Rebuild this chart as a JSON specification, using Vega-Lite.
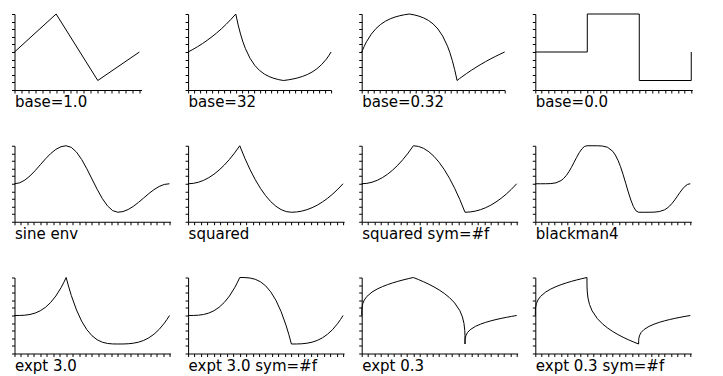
{
  "$schema": "https://vega.github.io/schema/vega-lite/v6.json",
  "background": "white",
  "padding": {"left": 10.5, "top": 12, "right": 5, "bottom": 5},
  "config": {
    "view": {"stroke": null},
    "axis": {"grid": false, "labels": false, "domainColor": "black", "tickColor": "black", "tickSize": 3, "domainWidth": 1, "tickWidth": 1, "titleFont": "DejaVu Sans", "titleFontSize": 15, "titleFontWeight": "normal", "titleColor": "black", "titleAnchor": "start", "titlePadding": 1},
    "line": {"color": "black", "strokeWidth": 1}
  },
  "datasets": {
    "p1": [{"x":0,"y":0},{"x":1,"y":1},{"x":2,"y":-0.75},{"x":3,"y":0}],
    "p2": [{"x":0,"y":0},{"x":0.1,"y":0.0678},{"x":0.2,"y":0.1412},{"x":0.3,"y":0.2208},{"x":0.4,"y":0.307},{"x":0.5,"y":0.4006},{"x":0.6,"y":0.5019},{"x":0.7,"y":0.6117},{"x":0.8,"y":0.7308},{"x":0.9,"y":0.8599},{"x":1,"y":1},
      {"x":1.05,"y":0.7126},{"x":1.1,"y":0.4709},{"x":1.15,"y":0.2677},{"x":1.2,"y":0.0968},{"x":1.3,"y":-0.1678},{"x":1.4,"y":-0.3548},{"x":1.5,"y":-0.4871},{"x":1.6,"y":-0.5806},{"x":1.7,"y":-0.6468},{"x":1.8,"y":-0.6935},{"x":1.9,"y":-0.7266},{"x":2,"y":-0.75},
      {"x":2.1,"y":-0.7328},{"x":2.2,"y":-0.7104},{"x":2.3,"y":-0.6811},{"x":2.4,"y":-0.6429},{"x":2.5,"y":-0.5931},{"x":2.6,"y":-0.5281},{"x":2.7,"y":-0.4433},{"x":2.8,"y":-0.3326},{"x":2.9,"y":-0.1883},{"x":2.95,"y":-0.1004},{"x":3,"y":0}],
    "p3": [{"x":0,"y":0},{"x":0.05,"y":0.1414},{"x":0.1,"y":0.2682},{"x":0.2,"y":0.4683},{"x":0.3,"y":0.6177},{"x":0.4,"y":0.7291},{"x":0.5,"y":0.8122},{"x":0.6,"y":0.8742},{"x":0.7,"y":0.9205},{"x":0.8,"y":0.955},{"x":0.9,"y":0.9808},{"x":1,"y":1},
      {"x":1.1,"y":0.9766},{"x":1.2,"y":0.9435},{"x":1.3,"y":0.8968},{"x":1.4,"y":0.8306},{"x":1.5,"y":0.7371},{"x":1.6,"y":0.6048},{"x":1.7,"y":0.4178},{"x":1.8,"y":0.1532},{"x":1.85,"y":-0.0177},{"x":1.9,"y":-0.2209},{"x":1.95,"y":-0.4626},{"x":1.98,"y":-0.629},{"x":2,"y":-0.75},
      {"x":2.05,"y":-0.7022},{"x":2.1,"y":-0.6556},{"x":2.2,"y":-0.5662},{"x":2.3,"y":-0.4815},{"x":2.4,"y":-0.4011},{"x":2.5,"y":-0.325},{"x":2.6,"y":-0.2529},{"x":2.7,"y":-0.1845},{"x":2.8,"y":-0.1197},{"x":2.9,"y":-0.0582},{"x":3,"y":0}],
    "p4": [{"x":0,"y":0},{"x":1,"y":0},{"x":1,"y":1},{"x":2,"y":1},{"x":2,"y":-0.75},{"x":3,"y":-0.75},{"x":3,"y":0}],
    "p5": [{"x":0,"y":0},{"x":0.1,"y":0.0245},{"x":0.2,"y":0.0955},{"x":0.3,"y":0.2061},{"x":0.4,"y":0.3455},{"x":0.5,"y":0.5},{"x":0.6,"y":0.6545},{"x":0.7,"y":0.7939},{"x":0.8,"y":0.9045},{"x":0.9,"y":0.9755},{"x":1,"y":1},
      {"x":1.1,"y":0.9572},{"x":1.2,"y":0.8329},{"x":1.3,"y":0.6393},{"x":1.4,"y":0.3954},{"x":1.5,"y":0.125},{"x":1.6,"y":-0.1454},{"x":1.7,"y":-0.3893},{"x":1.8,"y":-0.5829},{"x":1.9,"y":-0.7072},{"x":2,"y":-0.75},
      {"x":2.1,"y":-0.7316},{"x":2.2,"y":-0.6784},{"x":2.3,"y":-0.5954},{"x":2.4,"y":-0.4909},{"x":2.5,"y":-0.375},{"x":2.6,"y":-0.2591},{"x":2.7,"y":-0.1546},{"x":2.8,"y":-0.0716},{"x":2.9,"y":-0.0184},{"x":3,"y":0}],
    "p6": [{"x":0,"y":0},{"x":0.1,"y":0.01},{"x":0.2,"y":0.04},{"x":0.3,"y":0.09},{"x":0.4,"y":0.16},{"x":0.5,"y":0.25},{"x":0.6,"y":0.36},{"x":0.7,"y":0.49},{"x":0.8,"y":0.64},{"x":0.9,"y":0.81},{"x":1,"y":1},
      {"x":1.1,"y":0.6675},{"x":1.2,"y":0.37},{"x":1.3,"y":0.1075},{"x":1.4,"y":-0.12},{"x":1.5,"y":-0.3125},{"x":1.6,"y":-0.47},{"x":1.7,"y":-0.5925},{"x":1.8,"y":-0.68},{"x":1.9,"y":-0.7325},{"x":2,"y":-0.75},
      {"x":2.1,"y":-0.7425},{"x":2.2,"y":-0.72},{"x":2.3,"y":-0.6825},{"x":2.4,"y":-0.63},{"x":2.5,"y":-0.5625},{"x":2.6,"y":-0.48},{"x":2.7,"y":-0.3825},{"x":2.8,"y":-0.27},{"x":2.9,"y":-0.1425},{"x":3,"y":0}],
    "p7": [{"x":0,"y":0},{"x":0.1,"y":0.01},{"x":0.2,"y":0.04},{"x":0.3,"y":0.09},{"x":0.4,"y":0.16},{"x":0.5,"y":0.25},{"x":0.6,"y":0.36},{"x":0.7,"y":0.49},{"x":0.8,"y":0.64},{"x":0.9,"y":0.81},{"x":1,"y":1},
      {"x":1.1,"y":0.9825},{"x":1.2,"y":0.93},{"x":1.3,"y":0.8425},{"x":1.4,"y":0.72},{"x":1.5,"y":0.5625},{"x":1.6,"y":0.37},{"x":1.7,"y":0.1425},{"x":1.8,"y":-0.12},{"x":1.9,"y":-0.4175},{"x":2,"y":-0.75},
      {"x":2.1,"y":-0.7425},{"x":2.2,"y":-0.72},{"x":2.3,"y":-0.6825},{"x":2.4,"y":-0.63},{"x":2.5,"y":-0.5625},{"x":2.6,"y":-0.48},{"x":2.7,"y":-0.3825},{"x":2.8,"y":-0.27},{"x":2.9,"y":-0.1425},{"x":3,"y":0}],
    "p8": [{"x":0,"y":0},{"x":0.1,"y":0},{"x":0.2,"y":0.0004},{"x":0.3,"y":0.0042},{"x":0.4,"y":0.0235},{"x":0.5,"y":0.084},{"x":0.55,"y":0.1399},{"x":0.6,"y":0.2171},{"x":0.65,"y":0.3158},{"x":0.7,"y":0.4333},{"x":0.75,"y":0.563},{"x":0.8,"y":0.6948},{"x":0.85,"y":0.8165},{"x":0.9,"y":0.9151},{"x":0.95,"y":0.9795},{"x":1,"y":1},
      {"x":1.1,"y":1},{"x":1.2,"y":0.9993},{"x":1.3,"y":0.9927},{"x":1.4,"y":0.9589},{"x":1.5,"y":0.853},{"x":1.55,"y":0.7552},{"x":1.6,"y":0.6201},{"x":1.65,"y":0.4474},{"x":1.7,"y":0.2417},{"x":1.75,"y":0.0148},{"x":1.8,"y":-0.2159},{"x":1.85,"y":-0.4289},{"x":1.9,"y":-0.6014},{"x":1.95,"y":-0.7141},{"x":2,"y":-0.75},
      {"x":2.1,"y":-0.75},{"x":2.2,"y":-0.7497},{"x":2.3,"y":-0.7469},{"x":2.4,"y":-0.7324},{"x":2.5,"y":-0.687},{"x":2.55,"y":-0.6451},{"x":2.6,"y":-0.5872},{"x":2.65,"y":-0.5132},{"x":2.7,"y":-0.425},{"x":2.75,"y":-0.3278},{"x":2.8,"y":-0.2289},{"x":2.85,"y":-0.1376},{"x":2.9,"y":-0.0637},{"x":2.95,"y":-0.0154},{"x":3,"y":0}],
    "p9": [{"x":0,"y":0},{"x":0.1,"y":0.001},{"x":0.2,"y":0.008},{"x":0.3,"y":0.027},{"x":0.4,"y":0.064},{"x":0.5,"y":0.125},{"x":0.6,"y":0.216},{"x":0.7,"y":0.343},{"x":0.8,"y":0.512},{"x":0.9,"y":0.729},{"x":0.95,"y":0.8574},{"x":1,"y":1},
      {"x":1.05,"y":0.7504},{"x":1.1,"y":0.5258},{"x":1.2,"y":0.146},{"x":1.3,"y":-0.1498},{"x":1.4,"y":-0.372},{"x":1.5,"y":-0.5313},{"x":1.6,"y":-0.638},{"x":1.7,"y":-0.7028},{"x":1.8,"y":-0.736},{"x":1.9,"y":-0.7483},{"x":2,"y":-0.75},
      {"x":2.1,"y":-0.7493},{"x":2.2,"y":-0.744},{"x":2.3,"y":-0.7298},{"x":2.4,"y":-0.702},{"x":2.5,"y":-0.6563},{"x":2.6,"y":-0.588},{"x":2.7,"y":-0.4928},{"x":2.8,"y":-0.366},{"x":2.9,"y":-0.2033},{"x":2.95,"y":-0.107},{"x":3,"y":0}],
    "p10": [{"x":0,"y":0},{"x":0.1,"y":0.001},{"x":0.2,"y":0.008},{"x":0.3,"y":0.027},{"x":0.4,"y":0.064},{"x":0.5,"y":0.125},{"x":0.6,"y":0.216},{"x":0.7,"y":0.343},{"x":0.8,"y":0.512},{"x":0.9,"y":0.729},{"x":0.95,"y":0.8574},{"x":1,"y":1},
      {"x":1.1,"y":0.9983},{"x":1.2,"y":0.986},{"x":1.3,"y":0.9528},{"x":1.4,"y":0.888},{"x":1.5,"y":0.7813},{"x":1.6,"y":0.622},{"x":1.7,"y":0.3998},{"x":1.8,"y":0.104},{"x":1.9,"y":-0.2758},{"x":1.95,"y":-0.5004},{"x":2,"y":-0.75},
      {"x":2.1,"y":-0.7493},{"x":2.2,"y":-0.744},{"x":2.3,"y":-0.7298},{"x":2.4,"y":-0.702},{"x":2.5,"y":-0.6563},{"x":2.6,"y":-0.588},{"x":2.7,"y":-0.4928},{"x":2.8,"y":-0.366},{"x":2.9,"y":-0.2033},{"x":2.95,"y":-0.107},{"x":3,"y":0}],
    "p11": [{"x":0,"y":0},{"x":0.001,"y":0.1259},{"x":0.005,"y":0.2038},{"x":0.02,"y":0.3092},{"x":0.05,"y":0.4071},{"x":0.1,"y":0.5012},{"x":0.2,"y":0.617},{"x":0.3,"y":0.6968},{"x":0.4,"y":0.7597},{"x":0.5,"y":0.8123},{"x":0.6,"y":0.8579},{"x":0.7,"y":0.8985},{"x":0.8,"y":0.9352},{"x":0.9,"y":0.9689},{"x":1,"y":1},
      {"x":1.1,"y":0.9456},{"x":1.2,"y":0.8866},{"x":1.3,"y":0.8224},{"x":1.4,"y":0.7513},{"x":1.5,"y":0.6715},{"x":1.6,"y":0.5795},{"x":1.7,"y":0.4694},{"x":1.8,"y":0.3298},{"x":1.9,"y":0.1271},{"x":1.95,"y":-0.0376},{"x":1.98,"y":-0.2089},{"x":1.995,"y":-0.3934},{"x":1.999,"y":-0.5297},{"x":2,"y":-0.75},
      {"x":2.001,"y":-0.6556},{"x":2.005,"y":-0.5971},{"x":2.02,"y":-0.5181},{"x":2.05,"y":-0.4447},{"x":2.1,"y":-0.3741},{"x":2.2,"y":-0.2872},{"x":2.3,"y":-0.2274},{"x":2.4,"y":-0.1802},{"x":2.5,"y":-0.1408},{"x":2.6,"y":-0.1066},{"x":2.7,"y":-0.0761},{"x":2.8,"y":-0.0486},{"x":2.9,"y":-0.0233},{"x":3,"y":0}],
    "p12": [{"x":0,"y":0},{"x":0.001,"y":0.1259},{"x":0.005,"y":0.2038},{"x":0.02,"y":0.3092},{"x":0.05,"y":0.4071},{"x":0.1,"y":0.5012},{"x":0.2,"y":0.617},{"x":0.3,"y":0.6968},{"x":0.4,"y":0.7597},{"x":0.5,"y":0.8123},{"x":0.6,"y":0.8579},{"x":0.7,"y":0.8985},{"x":0.8,"y":0.9352},{"x":0.9,"y":0.9689},{"x":1,"y":1},
      {"x":1.001,"y":0.7797},{"x":1.005,"y":0.6434},{"x":1.02,"y":0.4589},{"x":1.05,"y":0.2876},{"x":1.1,"y":0.1229},{"x":1.2,"y":-0.0798},{"x":1.3,"y":-0.2194},{"x":1.4,"y":-0.3295},{"x":1.5,"y":-0.4215},{"x":1.6,"y":-0.5013},{"x":1.7,"y":-0.5724},{"x":1.8,"y":-0.6366},{"x":1.9,"y":-0.6956},{"x":2,"y":-0.75},
      {"x":2.001,"y":-0.6556},{"x":2.005,"y":-0.5971},{"x":2.02,"y":-0.5181},{"x":2.05,"y":-0.4447},{"x":2.1,"y":-0.3741},{"x":2.2,"y":-0.2872},{"x":2.3,"y":-0.2274},{"x":2.4,"y":-0.1802},{"x":2.5,"y":-0.1408},{"x":2.6,"y":-0.1066},{"x":2.7,"y":-0.0761},{"x":2.8,"y":-0.0486},{"x":2.9,"y":-0.0233},{"x":3,"y":0}]
  },
  "columns": 4,
  "bounds": "flush",
  "spacing": {"row": 55.75, "column": 17.6},
  "concat": [
    {"width": 127, "height": 76, "data": {"name": "p1"}, "mark": "line", "encoding": {"x": {"field": "x", "type": "quantitative", "scale": {"domain": [0, 3.05]}, "axis": {"title": "base=1.0", "values": [0,0.1667,0.3333,0.5,0.6667,0.8333,1,1.1667,1.3333,1.5,1.6667,1.8333,2,2.1667,2.3333,2.5,2.6667,2.8333,3]}}, "y": {"field": "y", "type": "quantitative", "scale": {"domain": [-1, 1]}, "axis": {"title": null, "values": [-1,-0.8,-0.6,-0.4,-0.2,0,0.2,0.4,0.6,0.8,1]}}, "order": {"value": null}}},
    {"width": 143, "height": 76, "data": {"name": "p2"}, "mark": "line", "encoding": {"x": {"field": "x", "type": "quantitative", "scale": {"domain": [0, 3]}, "axis": {"title": "base=32", "values": [0,0.125,0.25,0.375,0.5,0.625,0.75,0.875,1,1.125,1.25,1.375,1.5,1.625,1.75,1.875,2,2.125,2.25,2.375,2.5,2.625,2.75,2.875,3]}}, "y": {"field": "y", "type": "quantitative", "scale": {"domain": [-1, 1]}, "axis": {"title": null, "values": [-1,-0.8,-0.6,-0.4,-0.2,0,0.2,0.4,0.6,0.8,1]}}, "order": {"value": null}}},
    {"width": 143, "height": 76, "data": {"name": "p3"}, "mark": "line", "encoding": {"x": {"field": "x", "type": "quantitative", "scale": {"domain": [0, 3]}, "axis": {"title": "base=0.32", "values": [0,0.125,0.25,0.375,0.5,0.625,0.75,0.875,1,1.125,1.25,1.375,1.5,1.625,1.75,1.875,2,2.125,2.25,2.375,2.5,2.625,2.75,2.875,3]}}, "y": {"field": "y", "type": "quantitative", "scale": {"domain": [-1, 1]}, "axis": {"title": null, "values": [-1,-0.8,-0.6,-0.4,-0.2,0,0.2,0.4,0.6,0.8,1]}}, "order": {"value": null}}},
    {"width": 157, "height": 76, "data": {"name": "p4"}, "mark": "line", "encoding": {"x": {"field": "x", "type": "quantitative", "scale": {"domain": [0, 3.02]}, "axis": {"title": "base=0.0", "values": [0,0.125,0.25,0.375,0.5,0.625,0.75,0.875,1,1.125,1.25,1.375,1.5,1.625,1.75,1.875,2,2.125,2.25,2.375,2.5,2.625,2.75,2.875,3]}}, "y": {"field": "y", "type": "quantitative", "scale": {"domain": [-1, 1]}, "axis": {"title": null, "values": [-1,-0.8,-0.6,-0.4,-0.2,0,0.2,0.4,0.6,0.8,1]}}, "order": {"value": null}}},
    {"width": 156, "height": 76, "data": {"name": "p5"}, "mark": "line", "encoding": {"x": {"field": "x", "type": "quantitative", "scale": {"domain": [0, 3.02]}, "axis": {"title": "sine env", "values": [0,0.125,0.25,0.375,0.5,0.625,0.75,0.875,1,1.125,1.25,1.375,1.5,1.625,1.75,1.875,2,2.125,2.25,2.375,2.5,2.625,2.75,2.875,3]}}, "y": {"field": "y", "type": "quantitative", "scale": {"domain": [-1, 1]}, "axis": {"title": null, "values": [-1,-0.8,-0.6,-0.4,-0.2,0,0.2,0.4,0.6,0.8,1]}}, "order": {"value": null}}},
    {"width": 156, "height": 76, "data": {"name": "p6"}, "mark": "line", "encoding": {"x": {"field": "x", "type": "quantitative", "scale": {"domain": [0, 3.02]}, "axis": {"title": "squared", "values": [0,0.125,0.25,0.375,0.5,0.625,0.75,0.875,1,1.125,1.25,1.375,1.5,1.625,1.75,1.875,2,2.125,2.25,2.375,2.5,2.625,2.75,2.875,3]}}, "y": {"field": "y", "type": "quantitative", "scale": {"domain": [-1, 1]}, "axis": {"title": null, "values": [-1,-0.8,-0.6,-0.4,-0.2,0,0.2,0.4,0.6,0.8,1]}}, "order": {"value": null}}},
    {"width": 156, "height": 76, "data": {"name": "p7"}, "mark": "line", "encoding": {"x": {"field": "x", "type": "quantitative", "scale": {"domain": [0, 3.02]}, "axis": {"title": "squared sym=#f", "values": [0,0.125,0.25,0.375,0.5,0.625,0.75,0.875,1,1.125,1.25,1.375,1.5,1.625,1.75,1.875,2,2.125,2.25,2.375,2.5,2.625,2.75,2.875,3]}}, "y": {"field": "y", "type": "quantitative", "scale": {"domain": [-1, 1]}, "axis": {"title": null, "values": [-1,-0.8,-0.6,-0.4,-0.2,0,0.2,0.4,0.6,0.8,1]}}, "order": {"value": null}}},
    {"width": 156, "height": 76, "data": {"name": "p8"}, "mark": "line", "encoding": {"x": {"field": "x", "type": "quantitative", "scale": {"domain": [0, 3.02]}, "axis": {"title": "blackman4", "values": [0,0.125,0.25,0.375,0.5,0.625,0.75,0.875,1,1.125,1.25,1.375,1.5,1.625,1.75,1.875,2,2.125,2.25,2.375,2.5,2.625,2.75,2.875,3]}}, "y": {"field": "y", "type": "quantitative", "scale": {"domain": [-1, 1]}, "axis": {"title": null, "values": [-1,-0.8,-0.6,-0.4,-0.2,0,0.2,0.4,0.6,0.8,1]}}, "order": {"value": null}}},
    {"width": 156, "height": 76, "data": {"name": "p9"}, "mark": "line", "encoding": {"x": {"field": "x", "type": "quantitative", "scale": {"domain": [0, 3.02]}, "axis": {"title": "expt 3.0", "values": [0,0.125,0.25,0.375,0.5,0.625,0.75,0.875,1,1.125,1.25,1.375,1.5,1.625,1.75,1.875,2,2.125,2.25,2.375,2.5,2.625,2.75,2.875,3]}}, "y": {"field": "y", "type": "quantitative", "scale": {"domain": [-1, 1]}, "axis": {"title": null, "values": [-1,-0.8,-0.6,-0.4,-0.2,0,0.2,0.4,0.6,0.8,1]}}, "order": {"value": null}}},
    {"width": 156, "height": 76, "data": {"name": "p10"}, "mark": "line", "encoding": {"x": {"field": "x", "type": "quantitative", "scale": {"domain": [0, 3.02]}, "axis": {"title": "expt 3.0 sym=#f", "values": [0,0.125,0.25,0.375,0.5,0.625,0.75,0.875,1,1.125,1.25,1.375,1.5,1.625,1.75,1.875,2,2.125,2.25,2.375,2.5,2.625,2.75,2.875,3]}}, "y": {"field": "y", "type": "quantitative", "scale": {"domain": [-1, 1]}, "axis": {"title": null, "values": [-1,-0.8,-0.6,-0.4,-0.2,0,0.2,0.4,0.6,0.8,1]}}, "order": {"value": null}}},
    {"width": 156, "height": 76, "data": {"name": "p11"}, "mark": "line", "encoding": {"x": {"field": "x", "type": "quantitative", "scale": {"domain": [0, 3.02]}, "axis": {"title": "expt 0.3", "values": [0,0.125,0.25,0.375,0.5,0.625,0.75,0.875,1,1.125,1.25,1.375,1.5,1.625,1.75,1.875,2,2.125,2.25,2.375,2.5,2.625,2.75,2.875,3]}}, "y": {"field": "y", "type": "quantitative", "scale": {"domain": [-1, 1]}, "axis": {"title": null, "values": [-1,-0.8,-0.6,-0.4,-0.2,0,0.2,0.4,0.6,0.8,1]}}, "order": {"value": null}}},
    {"width": 156, "height": 76, "data": {"name": "p12"}, "mark": "line", "encoding": {"x": {"field": "x", "type": "quantitative", "scale": {"domain": [0, 3.02]}, "axis": {"title": "expt 0.3 sym=#f", "values": [0,0.125,0.25,0.375,0.5,0.625,0.75,0.875,1,1.125,1.25,1.375,1.5,1.625,1.75,1.875,2,2.125,2.25,2.375,2.5,2.625,2.75,2.875,3]}}, "y": {"field": "y", "type": "quantitative", "scale": {"domain": [-1, 1]}, "axis": {"title": null, "values": [-1,-0.8,-0.6,-0.4,-0.2,0,0.2,0.4,0.6,0.8,1]}}, "order": {"value": null}}}
  ]
}
